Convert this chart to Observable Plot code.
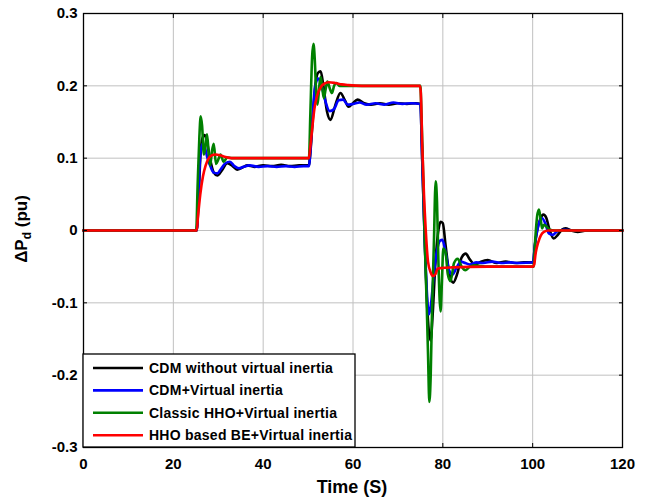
<!DOCTYPE html>
<html>
<head>
<meta charset="utf-8">
<script src="https://cdn.jsdelivr.net/npm/d3@7"></script>
<script src="https://cdn.jsdelivr.net/npm/@observablehq/plot@0.6"></script>
<style>
  html, body { margin: 0; padding: 0; background: #fff; }
  #chart { position: relative; width: 654px; height: 498px; }
</style>
</head>
<body>
<div id="chart"></div>
<script>
const xTicks = [0, 20, 40, 60, 80, 100, 120];
const yTicks = [-0.3, -0.2, -0.1, 0, 0.1, 0.2, 0.3];
const seriesNames = ["CDM without virtual inertia", "CDM+Virtual inertia", "Classic HHO+Virtual inertia", "HHO based BE+Virtual inertia"];
const seriesColors = ["#000000", "#0000ff", "#008000", "#ff0000"];

// CDM without virtual inertia (black)
const tBlack = [0, 25.2, 25.6, 26.0, 26.5, 27.0, 27.5, 28.2, 29.0, 29.8, 30.8, 32.0, 33.2, 34.2, 35.4, 36.5, 38, 40, 42, 44, 46, 48, 50.2,
  50.4, 51.0, 51.6, 52.2, 52.8, 53.4, 54.2, 55.0, 56.0, 57.2, 58.2, 59.0, 60.0, 61.0, 62.5, 64, 66, 68, 70, 72, 74, 75.0,
  75.4, 75.9, 76.4, 76.9, 77.3, 77.7, 78.3, 78.9, 79.5, 80.0, 80.6, 81.4, 82.3, 83.2, 84.2, 85.1, 86.0, 87.2, 88.5, 90, 92, 94, 96, 98, 100.1,
  100.5, 101.0, 101.7, 102.4, 103.0, 103.8, 104.7, 105.6, 106.5, 107.3, 108.5, 110, 112, 120];
const vBlack = [0, 0, 0.04, 0.10, 0.128, 0.132, 0.122, 0.098, 0.080, 0.076, 0.083, 0.093, 0.089, 0.084, 0.087, 0.090, 0.088, 0.090, 0.089, 0.091, 0.089, 0.090, 0.090,
  0.10, 0.15, 0.20, 0.218, 0.22, 0.20, 0.165, 0.153, 0.172, 0.19, 0.18, 0.171, 0.176, 0.181, 0.176, 0.174, 0.176, 0.174, 0.176, 0.175, 0.176, 0.175,
  0.10, 0.0, -0.09, -0.14, -0.152, -0.12, -0.05, -0.005, 0.012, 0.01, -0.02, -0.058, -0.072, -0.06, -0.037, -0.032, -0.04, -0.047, -0.043, -0.041, -0.045, -0.043, -0.045, -0.044, -0.044,
  -0.02, 0.0, 0.016, 0.022, 0.018, 0.0, -0.011, -0.006, 0.001, 0.003, 0.0, -0.002, 0, 0];

// CDM + Virtual inertia (blue)
const tBlue = [0, 25.2, 25.6, 26.0, 26.5, 27.0, 27.6, 28.3, 29.0, 29.8, 30.6, 31.6, 32.6, 33.6, 34.6, 35.6, 37, 39, 41, 43, 45, 47, 49, 50.2,
  50.4, 51.0, 51.6, 52.3, 53.0, 53.8, 54.8, 55.8, 56.8, 57.8, 58.8, 60, 61.5, 63, 65, 67, 69, 71, 73, 75.0,
  75.4, 75.9, 76.4, 76.9, 77.4, 78.0, 78.7, 79.4, 79.9, 80.6, 81.4, 82.1, 83.0, 84.0, 85.0, 86.0, 87.5, 89, 91, 93, 95, 97, 100.1,
  100.5, 101.0, 101.5, 102.1, 102.8, 103.6, 104.5, 105.5, 107, 109, 120];
const vBlue = [0, 0, 0.05, 0.105, 0.12, 0.115, 0.10, 0.088, 0.080, 0.079, 0.085, 0.093, 0.095, 0.089, 0.086, 0.088, 0.090, 0.088, 0.089, 0.088, 0.089, 0.088, 0.089, 0.089,
  0.10, 0.16, 0.20, 0.21, 0.20, 0.18, 0.165, 0.168, 0.18, 0.181, 0.174, 0.175, 0.177, 0.174, 0.176, 0.174, 0.177, 0.175, 0.176, 0.175,
  0.10, 0.0, -0.08, -0.116, -0.10, -0.06, -0.028, -0.014, -0.013, -0.03, -0.055, -0.061, -0.052, -0.043, -0.045, -0.047, -0.044, -0.045, -0.043, -0.045, -0.044, -0.045, -0.044,
  -0.02, 0.0, 0.012, 0.017, 0.01, -0.004, -0.006, -0.001, 0.001, 0, 0];

// Classic HHO + Virtual inertia (green)
const tGreen = [0, 25.1, 25.4, 25.8, 26.1, 26.4, 26.8, 27.1, 27.5, 27.9, 28.2, 28.6, 29.0, 29.5, 30.0, 30.5, 31.2, 32, 33, 35, 40, 45, 50.1,
  50.2, 50.5, 50.9, 51.2, 51.5, 51.8, 52.1, 52.5, 52.8, 53.1, 53.5, 53.9, 54.3, 54.8, 55.3, 55.8, 56.3, 57, 60, 65, 70, 75.0,
  75.2, 75.6, 76.0, 76.4, 76.7, 77.0, 77.3, 77.6, 78.0, 78.4, 78.7, 79.0, 79.5, 79.8, 80.1, 80.6, 81.1, 81.7, 82.5, 83.3, 84.2, 85, 86.0, 87, 90, 95, 100.0,
  100.2, 100.6, 101.0, 101.4, 101.8, 102.1, 102.5, 103.0, 103.8, 105, 120];
const vGreen = [0, 0, 0.06, 0.13, 0.158, 0.145, 0.105, 0.115, 0.133, 0.105, 0.09, 0.11, 0.12, 0.092, 0.098, 0.105, 0.095, 0.101, 0.1, 0.1, 0.1, 0.1, 0.1,
  0.1, 0.16, 0.24, 0.258, 0.235, 0.19, 0.174, 0.2, 0.212, 0.2, 0.183, 0.195, 0.206, 0.197, 0.19, 0.2, 0.204, 0.2, 0.2, 0.2, 0.2, 0.2,
  0.17, 0.08, -0.02, -0.1, -0.17, -0.237, -0.2, -0.11, -0.02, 0.068, 0.04, -0.04, -0.112, -0.07, -0.025, -0.03, -0.06, -0.07, -0.045, -0.039, -0.05, -0.055, -0.05, -0.048, -0.05, -0.05, -0.05,
  -0.05, -0.01, 0.02, 0.029, 0.015, 0.003, 0.008, 0.006, 0.001, 0, 0];

// HHO based BE + Virtual inertia (red)
const tRed = [0, 25.2, 25.5, 26.0, 26.6, 27.2, 27.8, 28.6, 29.4, 30.4, 31.4, 33, 35, 50.2,
  50.4, 50.9, 51.4, 52.0, 52.8, 53.6, 54.6, 56, 57.5, 59, 62, 74.9,
  75.1, 75.4, 75.8, 76.2, 76.7, 77.3, 77.8, 78.4, 78.8, 79.5, 82, 90, 100.1,
  100.3, 100.7, 101.2, 101.8, 102.5, 103.5, 120];
const vRed = [0, 0, 0.02, 0.05, 0.075, 0.09, 0.099, 0.104, 0.105, 0.104, 0.102, 0.1, 0.1, 0.1,
  0.11, 0.14, 0.168, 0.186, 0.198, 0.203, 0.205, 0.204, 0.202, 0.201, 0.2, 0.2,
  0.19, 0.12, 0.05, 0.0, -0.043, -0.058, -0.063, -0.06, -0.053, -0.052, -0.051, -0.05, -0.05,
  -0.048, -0.03, -0.017, -0.007, -0.002, 0.0, 0];

const seriesT = [tBlack, tBlue, tGreen, tRed];
const seriesV = [vBlack, vBlue, vGreen, vRed];
const rows = seriesT.map((ts, i) => ts.map((t, j) => ({t, v: seriesV[i][j], s: seriesNames[i]})));

const font = "'Liberation Sans', Arial, sans-serif";

const plot = Plot.plot({
  width: 654,
  height: 498,
  marginLeft: 83,
  marginRight: 32,
  marginTop: 13,
  marginBottom: 51,
  style: {fontFamily: font, fontSize: "15px", fontWeight: "bold", color: "#000", background: "#fff"},
  x: {domain: [0, 120], ticks: xTicks, label: null},
  y: {domain: [-0.3, 0.3], ticks: yTicks, label: null},
  marks: [
    Plot.gridX(xTicks, {stroke: "#c0c0c0", strokeOpacity: 1, strokeWidth: 1}),
    Plot.gridY(yTicks, {stroke: "#c0c0c0", strokeOpacity: 1, strokeWidth: 1}),
    ...rows.map((r, i) => Plot.line(r, {x: "t", y: "v", stroke: seriesColors[i], strokeWidth: 2.6, curve: "monotone-x"})),
    Plot.frame({stroke: "#000", strokeWidth: 1.3}),
    Plot.axisX(xTicks, {anchor: "bottom", tickSize: 0, tickPadding: 11, tickFormat: d => String(d)}),
    Plot.axisY(yTicks, {anchor: "left", tickSize: 0, tickPadding: 6, tickFormat: d => String(d)}),
    Plot.axisX(xTicks, {anchor: "bottom", tickSize: 4, dy: -4, tickFormat: () => ""}),
    Plot.axisX(xTicks, {anchor: "top", tickSize: 4, dy: 4, tickFormat: () => ""}),
    Plot.axisY(yTicks, {anchor: "left", tickSize: 4, dx: 4, tickFormat: () => ""}),
    Plot.axisY(yTicks, {anchor: "right", tickSize: 4, dx: -4, tickFormat: () => ""})
  ]
});

document.getElementById("chart").appendChild(plot);

const svg = d3.select(plot);

// x axis title
svg.append("text")
  .attr("x", 352).attr("y", 493)
  .attr("text-anchor", "middle")
  .style("font-family", font).style("font-weight", "bold").style("font-size", "18px")
  .text("Time (S)");

// y axis title with subscript
const yl = svg.append("text")
  .attr("transform", "translate(27,229) rotate(-90)")
  .attr("text-anchor", "middle")
  .style("font-family", font).style("font-weight", "bold").style("font-size", "17px");
yl.append("tspan").text("ΔP");
yl.append("tspan").attr("dy", 4).style("font-size", "12px").text("d");
yl.append("tspan").attr("dy", -4).text(" (pu)");

// legend
const lg = svg.append("g").attr("text-anchor", "start");
lg.append("rect").attr("x", 83).attr("y", 354).attr("width", 272).attr("height", 93)
  .attr("fill", "#fff").attr("stroke", "#000").attr("stroke-width", 1.3);
seriesNames.forEach((name, i) => {
  const y = 368 + i * 22.4;
  lg.append("line").attr("x1", 93).attr("x2", 143).attr("y1", y).attr("y2", y)
    .attr("stroke", seriesColors[i]).attr("stroke-width", 2.6);
  lg.append("text").attr("x", 149).attr("y", y).attr("dy", "0.36em")
    .attr("text-anchor", "start")
    .style("font-family", font).style("font-weight", "bold").style("font-size", "14px")
    .style("letter-spacing", "0.25px")
    .text(name);
});
</script>
</body>
</html>
